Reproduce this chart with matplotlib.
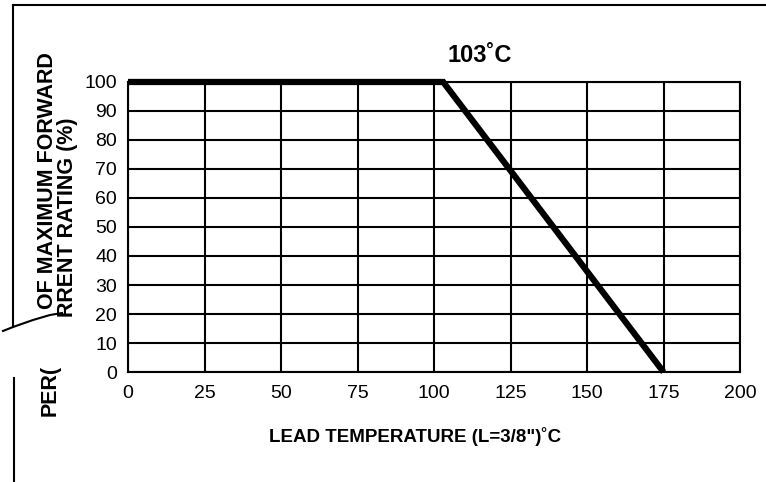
import matplotlib.pyplot as plt
from matplotlib.lines import Line2D

# derating curve
lead_temp = [0, 103, 175]
rating = [100, 100, 0]

x_ticks = [0, 25, 50, 75, 100, 125, 150, 175, 200]
y_ticks = [0, 10, 20, 30, 40, 50, 60, 70, 80, 90, 100]


def plot(path="out.png"):
    plt.rcParams["font.family"] = ["Liberation Sans", "DejaVu Sans"]
    W, H = 766, 482
    fig = plt.figure(figsize=(W / 100, H / 100), dpi=100)
    ax = fig.add_axes([0.1671, 0.2282, 0.7990, 0.6017])

    ax.plot(lead_temp, rating, color="black", lw=4.5, solid_capstyle="butt",
            solid_joinstyle="miter", zorder=5, clip_on=False)

    ax.set_xlim(0, 200)
    ax.set_ylim(0, 100)
    ax.set_xticks(x_ticks)
    ax.set_yticks(y_ticks)
    ax.tick_params(length=0, labelsize=14, colors="black")
    ax.tick_params(axis="x", pad=9)
    ax.tick_params(axis="y", pad=8)
    ax.grid(True, color="black", lw=1.5)
    for s in ax.spines.values():
        s.set_linewidth(1.5)

    fig.text(480 / W, 1 - 55 / H, "103˚C", ha="center", va="center",
             fontsize=17, fontweight="bold")
    fig.text(415 / W, 1 - 436 / H, 'LEAD TEMPERATURE (L=3/8")˚C',
             ha="center", va="center", fontsize=13.5, fontweight="bold")

    # y label fragments as they survive on the torn scan
    fig.text(48 / W, 1 - 181 / H, "OF MAXIMUM FORWARD", rotation=90,
             ha="center", va="center", fontsize=15.5, fontweight="bold")
    fig.text(67 / W, 1 - 217 / H, "RRENT RATING (%)", rotation=90,
             ha="center", va="center", fontsize=15.5, fontweight="bold")
    fig.text(50 / W, 1 - 390 / H, "PER(", rotation=90,
             ha="center", va="center", fontsize=15.5, fontweight="bold")

    # page border and tear
    border = [
        ([13, 766], [5, 5]),
        ([13, 13], [5, 327]),
        ([3, 13, 33, 50, 62], [331, 327, 320, 315, 313]),
        ([14, 14], [378, 482]),
    ]
    for xs, ys in border:
        fig.add_artist(Line2D([x / W for x in xs], [1 - y / H for y in ys],
                              color="black", lw=1.5))

    fig.savefig(path)


if __name__ == "__main__":
    plot()
